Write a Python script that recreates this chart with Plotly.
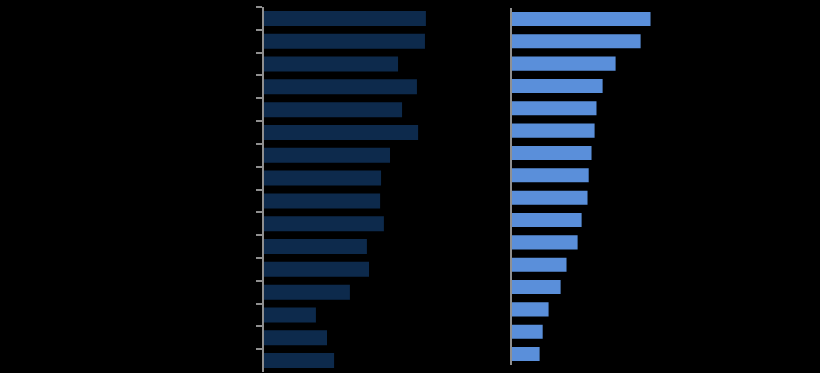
import plotly.graph_objects as go

categories = [f"Item {i}" for i in range(1, 17)]
left_values = [68.6, 68.2, 56.8, 64.8, 58.5, 65.3, 53.4, 49.6, 49.2, 50.8, 43.6, 44.5, 36.4, 22.0, 26.7, 29.7]
right_values = [58.7, 54.5, 43.9, 38.4, 35.8, 35.0, 33.7, 32.5, 32.0, 29.5, 27.8, 23.1, 20.6, 15.5, 13.0, 11.7]

fig = go.Figure()
fig.add_trace(go.Bar(x=left_values, y=categories, orientation="h", width=0.66,
                     marker=dict(color="#0D2A4C", line=dict(width=0)),
                     xaxis="x", yaxis="y", showlegend=False))
fig.add_trace(go.Bar(x=right_values, y=categories, orientation="h", width=0.63,
                     marker=dict(color="#5A8FDA", line=dict(width=0)),
                     xaxis="x2", yaxis="y2", showlegend=False))

ydom = [1 - 372 / 373, 1 - 7 / 373]
ydom2 = [1 - 365.2 / 373, 1 - 7.8 / 373]
fig.update_layout(
    width=820, height=373,
    margin=dict(l=0, r=0, t=0, b=0),
    paper_bgcolor="black", plot_bgcolor="black",
    xaxis=dict(domain=[264 / 820, 500 / 820], range=[0, 100], visible=False, anchor="y"),
    xaxis2=dict(domain=[512 / 820, 748 / 820], range=[0, 100], visible=False, anchor="y2"),
    yaxis=dict(domain=ydom, anchor="x", autorange="reversed", showticklabels=False,
               showline=True, linecolor="#8f8f8f", linewidth=1.5,
               ticks="outside", ticklen=6, tickwidth=1.5, tickcolor="#8f8f8f",
               tickson="boundaries", showgrid=False, zeroline=False),
    yaxis2=dict(domain=ydom2, anchor="x2", autorange="reversed", showticklabels=False,
                showline=True, linecolor="#8f8f8f", linewidth=1.5,
                ticks="", showgrid=False, zeroline=False),
)
fig.write_html("out.html")
